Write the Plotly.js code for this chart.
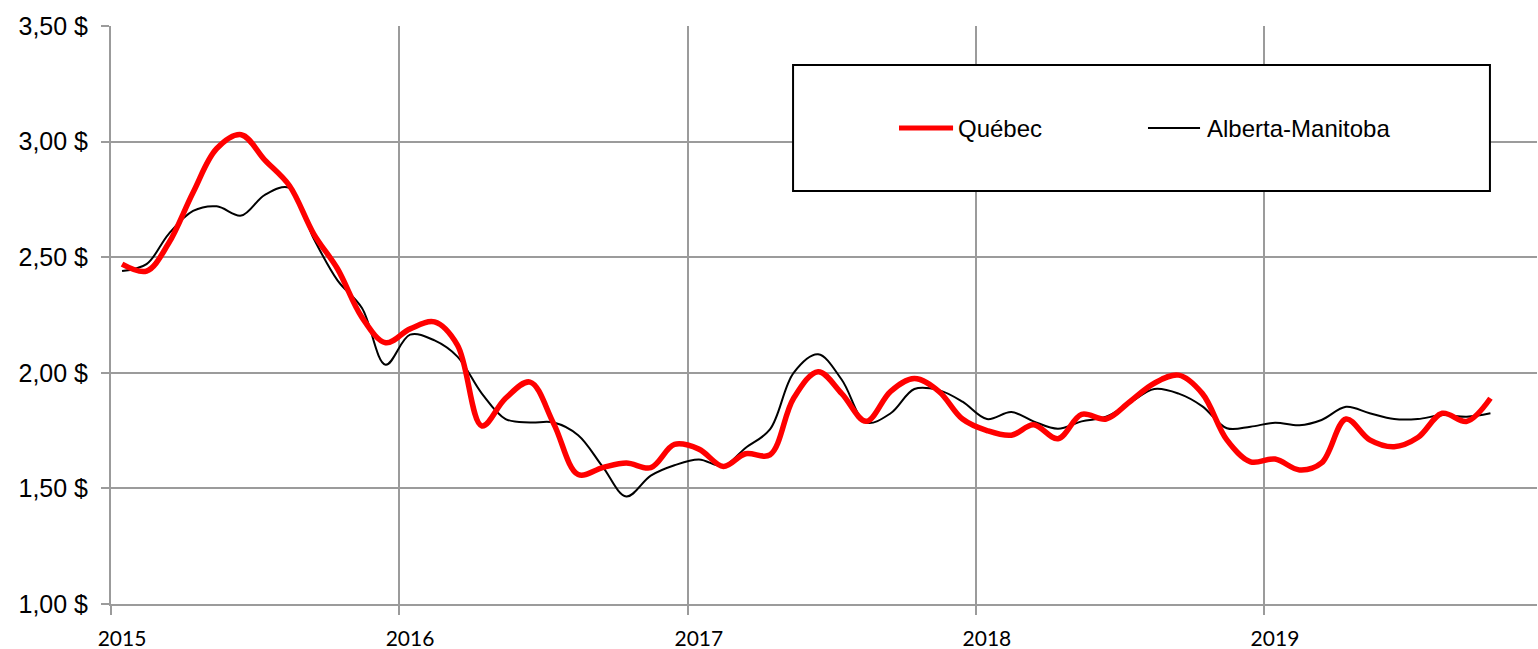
<!DOCTYPE html>
<html>
<head>
<meta charset="utf-8">
<script src="https://cdn.plot.ly/plotly-3.0.1.min.js"></script>
<style>html,body{margin:0;padding:0;background:#fff;}#chart{width:1538px;height:649px;}</style>
</head>
<body>
<div id="chart"></div>
<script>
// Monthly observations (mid-month), January 2015 to October 2019
const months = [];
for (let y = 2015; y <= 2019; y++) {
  for (let m = 1; m <= 12; m++) {
    if (y === 2019 && m > 10) break;
    months.push(y + '-' + String(m).padStart(2, '0') + '-15');
  }
}

const quebec = [
  2.47, 2.44, 2.56, 2.78, 2.97, 3.03, 2.92, 2.81, 2.60, 2.45, 2.24, 2.13,
  2.19, 2.22, 2.12, 1.77, 1.89, 1.96, 1.78, 1.56, 1.59, 1.61, 1.59, 1.69,
  1.67, 1.595, 1.65, 1.645, 1.89, 2.005, 1.91, 1.79, 1.92, 1.975, 1.92, 1.80,
  1.75, 1.73, 1.775, 1.715, 1.82, 1.80, 1.875, 1.955, 1.99, 1.91, 1.71, 1.615,
  1.627, 1.58, 1.61, 1.80, 1.71, 1.68, 1.72, 1.825, 1.79, 1.89
];

const albertaManitoba = [
  2.44, 2.47, 2.60, 2.70, 2.72, 2.68, 2.77, 2.80, 2.58, 2.40, 2.28, 2.035,
  2.165, 2.14, 2.07, 1.91, 1.80, 1.785, 1.785, 1.73, 1.594, 1.465, 1.555, 1.60,
  1.625, 1.597, 1.675, 1.755, 2.00, 2.08, 1.97, 1.785, 1.825, 1.93, 1.925, 1.875,
  1.80, 1.83, 1.79, 1.758, 1.79, 1.81, 1.87, 1.93, 1.91, 1.855, 1.76, 1.767,
  1.784, 1.773, 1.796, 1.853, 1.825, 1.80, 1.80, 1.817, 1.81, 1.825
];

const seriesNames = ['Québec', 'Alberta-Manitoba'];
const xTickVals = ['2015-01-01', '2016-01-01', '2017-01-01', '2018-01-01', '2019-01-01'];
const xTickText = ['2015', '2016', '2017', '2018', '2019'];
const yTickVals = [1.0, 1.5, 2.0, 2.5, 3.0, 3.5];
const yTickText = ['1,00 $', '1,50 $', '2,00 $', '2,50 $', '3,00 $', '3,50 $'];

const gridColor = '#9b9b9b';

const traces = [
  {
    x: months, y: albertaManitoba, name: seriesNames[1], type: 'scatter', mode: 'lines',
    line: {color: '#000000', width: 2, shape: 'spline', smoothing: 1},
    hoverinfo: 'x+y'
  },
  {
    x: months, y: quebec, name: seriesNames[0], type: 'scatter', mode: 'lines',
    line: {color: '#ff0000', width: 5.5, shape: 'spline', smoothing: 1},
    hoverinfo: 'x+y'
  }
];

// legend drawn as a framed box (paper coordinates)
const L = {x0: 0.4783, x1: 0.9670, y0: 0.7145, y1: 0.9325, ym: 0.8235};
const layout = {
  width: 1538, height: 649,
  margin: {l: 111, r: 1, t: 26, b: 45, pad: 0},
  paper_bgcolor: '#ffffff', plot_bgcolor: '#ffffff',
  showlegend: false,
  font: {family: 'Liberation Sans, Arial, sans-serif', color: '#000'},
  xaxis: {
    type: 'date',
    range: ['2015-01-01', '2019-12-13'],
    tickmode: 'array', tickvals: xTickVals, ticktext: xTickText,
    showgrid: true, gridcolor: gridColor, gridwidth: 2,
    showline: true, linecolor: gridColor, linewidth: 2,
    ticks: 'outside', ticklen: 9, tickwidth: 2, tickcolor: gridColor,
    ticklabelshift: 11, ticklabelstandoff: 6,
    tickfont: {family: 'Lato, Carlito, Calibri, sans-serif', size: 21, color: '#000'},
    zeroline: false, fixedrange: true
  },
  yaxis: {
    range: [1.0, 3.5],
    tickmode: 'array', tickvals: yTickVals, ticktext: yTickText,
    showgrid: true, gridcolor: gridColor, gridwidth: 2,
    showline: true, linecolor: gridColor, linewidth: 2,
    ticks: 'outside', ticklen: 8, tickwidth: 2, tickcolor: gridColor,
    ticklabelstandoff: 8,
    tickfont: {family: 'Liberation Sans, Arial, sans-serif', size: 25, color: '#000'},
    zeroline: false, fixedrange: true
  },
  shapes: [
    {type: 'rect', xref: 'paper', yref: 'paper', x0: L.x0, x1: L.x1, y0: L.y0, y1: L.y1,
     line: {color: '#000', width: 2}, fillcolor: '#ffffff', layer: 'above'},
    {type: 'line', xref: 'paper', yref: 'paper', x0: 0.5526, x1: 0.5905, y0: L.ym, y1: L.ym,
     line: {color: '#ff0000', width: 5}, layer: 'above'},
    {type: 'line', xref: 'paper', yref: 'paper', x0: 0.7272, x1: 0.7637, y0: L.ym, y1: L.ym,
     line: {color: '#000000', width: 2}, layer: 'above'}
  ],
  annotations: [
    {xref: 'paper', yref: 'paper', x: 0.5926, y: L.ym, xanchor: 'left', yanchor: 'middle',
     text: seriesNames[0], showarrow: false,
     font: {family: 'Liberation Sans, Arial, sans-serif', size: 24, color: '#000'}},
    {xref: 'paper', yref: 'paper', x: 0.7672, y: L.ym, xanchor: 'left', yanchor: 'middle',
     text: seriesNames[1], showarrow: false,
     font: {family: 'Liberation Sans, Arial, sans-serif', size: 24, color: '#000'}}
  ]
};

Plotly.newPlot('chart', traces, layout, {displayModeBar: false, staticPlot: false});
</script>
</body>
</html>
